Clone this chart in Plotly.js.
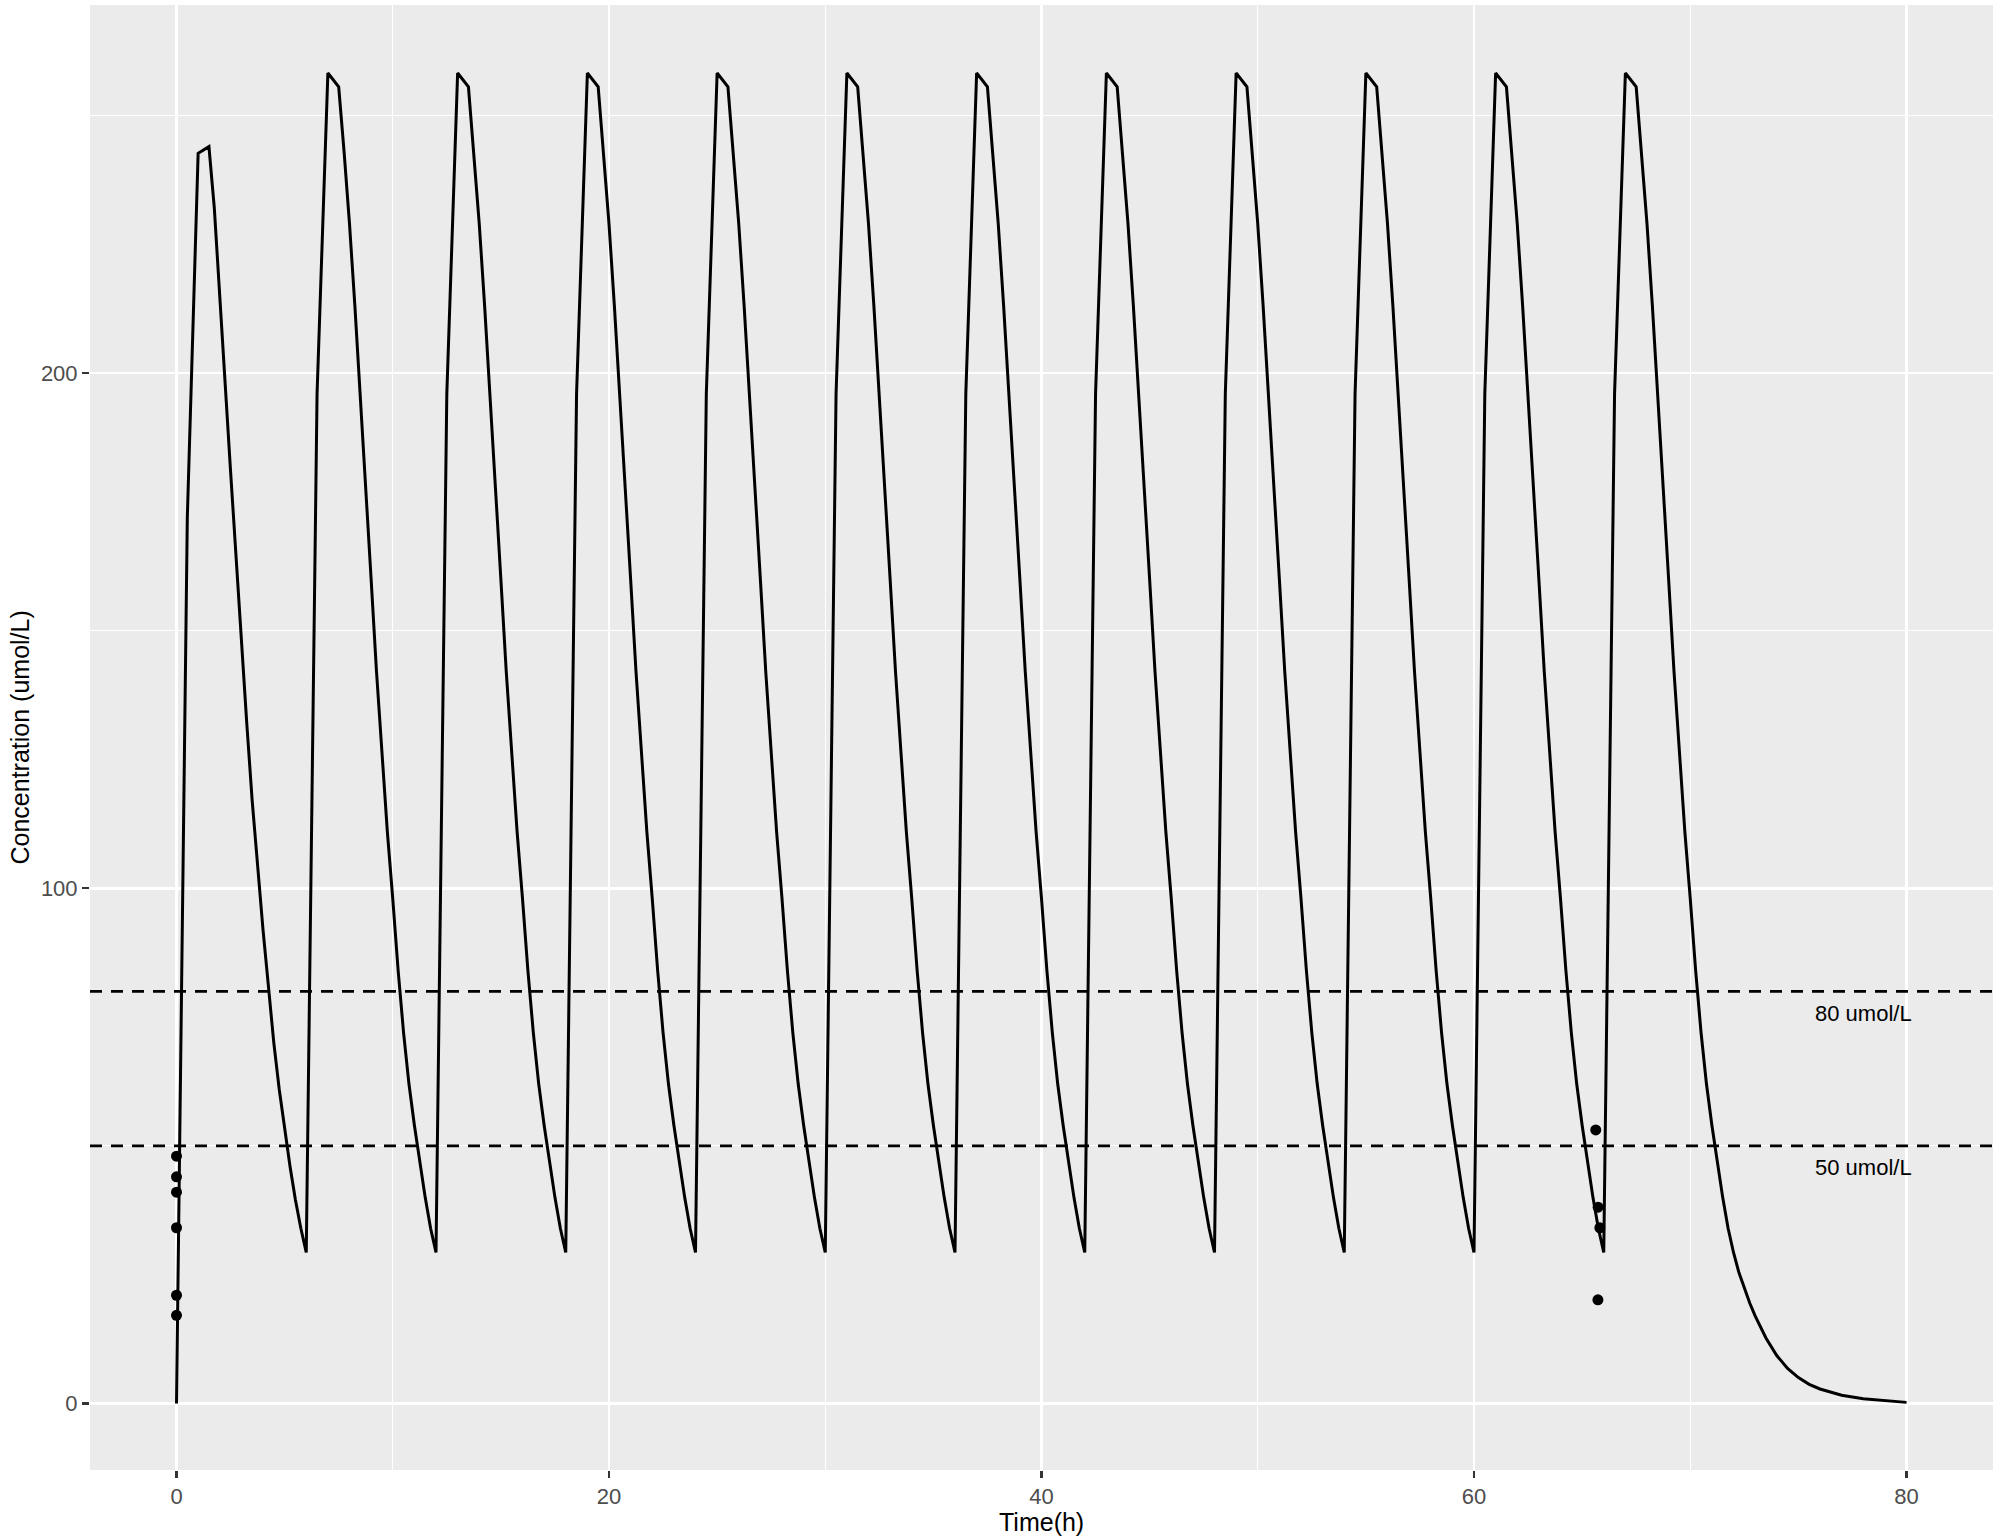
<!DOCTYPE html>
<html>
<head>
<meta charset="utf-8">
<script src="https://cdn.plot.ly/plotly-3.0.1.min.js"></script>
<style>
  html, body { margin: 0; padding: 0; background: #ffffff; }
  #chart { width: 2000px; height: 1539px; }
</style>
</head>
<body>
<div id="chart"></div>
<script>
// ---- Data ----
// First dose (t = 0 h), simulated profile
const firstDoseTime = [0, 0.5, 1.0, 1.5, 1.75, 2.0, 2.25, 2.5, 2.75, 3.0, 3.25, 3.5, 3.75, 4.0, 4.25, 4.5, 4.75, 5.0, 5.25, 5.5, 5.75];
const firstDoseConc = [0, 172, 242.7, 244, 232, 216, 198, 181, 164, 148, 132, 117, 104, 92, 81, 70, 61, 53, 46, 39.5, 34];

// Repeated dosing cycle (offset in h after each dose) – steady state profile
const cycleOffset = [0, 0.5, 1.0, 1.5, 1.75, 2.0, 2.25, 2.5, 2.75, 3.0, 3.25, 3.5, 3.75, 4.0, 4.25, 4.5, 4.75, 5.0, 5.25, 5.5, 5.75];
const cycleConc   = [29.3, 196, 258.3, 255.6, 243, 229, 213, 196, 177, 160, 142, 126, 111, 98, 84, 72, 62, 54, 47, 40, 34];

// Dose times after the first one
const doseTimes = [6, 12, 18, 24, 30, 36, 42, 48, 54, 60, 66];

// Wash-out after the last dose
const tailTime = [72, 72.25, 72.5, 72.75, 73, 73.25, 73.5, 74, 74.5, 75, 75.5, 76, 77, 78, 79, 80];
const tailConc = [29.3, 25.4, 22.3, 19.5, 17.0, 14.7, 12.7, 9.3, 6.8, 5.0, 3.7, 2.8, 1.6, 0.9, 0.5, 0.2];

// Observed concentrations (points)
const obsTime = [0, 0, 0, 0, 0, 0, 65.63, 65.74, 65.82, 65.73];
const obsConc = [48.0, 44.0, 41.0, 34.1, 21.0, 17.1, 53.1, 38.1, 34.1, 20.1];

// Reference thresholds
const thresholds = [80, 50];
const thresholdLabels = ['80 umol/L', '50 umol/L'];
const labelTime = 78;

// Axis ticks
const xTicks = [0, 20, 40, 60, 80];
const yTicks = [0, 100, 200];

// ---- Build the simulated series table ----
const simTime = firstDoseTime.slice();
const simConc = firstDoseConc.slice();
doseTimes.forEach(function (d) {
  cycleOffset.forEach(function (o, i) {
    simTime.push(d + o);
    simConc.push(cycleConc[i]);
  });
});
tailTime.forEach(function (t, i) {
  simTime.push(t);
  simConc.push(tailConc[i]);
});

const FONT = 'Liberation Sans, Arial, Helvetica, sans-serif';

const traces = [
  {
    x: simTime, y: simConc, type: 'scatter', mode: 'lines',
    line: { color: '#000000', width: 3 },
    hoverinfo: 'skip', showlegend: false
  },
  {
    x: obsTime, y: obsConc, type: 'scatter', mode: 'markers',
    marker: { color: '#000000', size: 11 },
    hoverinfo: 'skip', showlegend: false
  }
];

const shapes = thresholds.map(function (v) {
  return {
    type: 'line', xref: 'paper', x0: 0, x1: 1, yref: 'y', y0: v, y1: v,
    line: { color: '#000000', width: 2.8, dash: '12px,9px' }
  };
});

const annotations = thresholds.map(function (v, i) {
  return {
    x: labelTime, y: v, xref: 'x', yref: 'y', yshift: -22,
    text: thresholdLabels[i], showarrow: false,
    xanchor: 'center', yanchor: 'middle',
    font: { family: FONT, size: 22, color: '#000000' }
  };
});

// Axis titles as annotations for precise placement
annotations.push({
  xref: 'paper', yref: 'paper', x: 0.5, y: 0, yshift: -52,
  xanchor: 'center', yanchor: 'middle', showarrow: false,
  text: 'Time(h)', font: { family: FONT, size: 25, color: '#000000' }
});
annotations.push({
  xref: 'paper', yref: 'paper', x: 0, y: 0.5, xshift: -71,
  xanchor: 'center', yanchor: 'middle', showarrow: false, textangle: -90,
  text: 'Concentration (umol/L)', font: { family: FONT, size: 25, color: '#000000' }
});

const layout = {
  width: 2000, height: 1539,
  margin: { l: 90, r: 7, t: 5, b: 69, pad: 0 },
  paper_bgcolor: '#ffffff',
  plot_bgcolor: '#EBEBEB',
  showlegend: false,
  xaxis: {
    range: [-4, 84],
    tickmode: 'array', tickvals: xTicks, ticktext: xTicks.map(String),
    showgrid: true, gridcolor: '#ffffff', gridwidth: 2.4,
    minor: { tickmode: 'linear', tick0: 0, dtick: 10, showgrid: true, gridcolor: '#ffffff', gridwidth: 1.2, ticks: '' },
    zeroline: false, showline: false,
    ticks: 'outside', ticklen: 7, tickwidth: 2.2, tickcolor: '#333333',
    tickfont: { family: FONT, size: 22, color: '#4D4D4D' },
    fixedrange: true
  },
  yaxis: {
    range: [-12.93, 271.5],
    tickmode: 'array', tickvals: yTicks, ticktext: yTicks.map(String),
    showgrid: true, gridcolor: '#ffffff', gridwidth: 2.4,
    minor: { tickmode: 'linear', tick0: 0, dtick: 50, showgrid: true, gridcolor: '#ffffff', gridwidth: 1.2, ticks: '' },
    zeroline: false, showline: false,
    ticks: 'outside', ticklen: 7, tickwidth: 2.2, tickcolor: '#333333',
    tickfont: { family: FONT, size: 22, color: '#4D4D4D' },
    fixedrange: true
  },
  shapes: shapes,
  annotations: annotations
};

Plotly.newPlot('chart', traces, layout, { staticPlot: true, displayModeBar: false });
</script>
</body>
</html>
